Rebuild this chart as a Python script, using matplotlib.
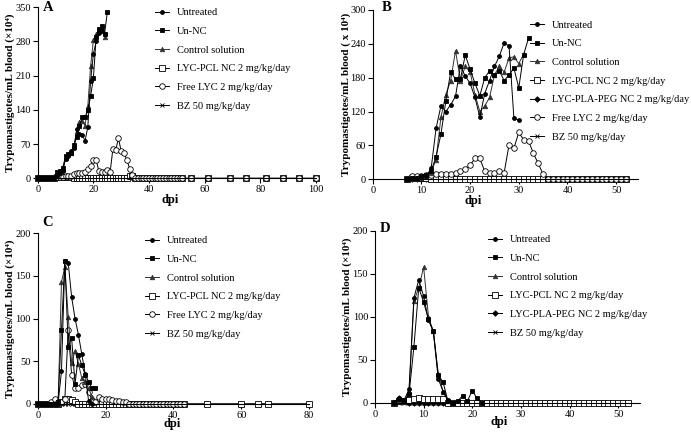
"""Plots parasitaemia curves (trypomastigotes in blood) for four experiments."""

import matplotlib
matplotlib.use('Agg')
import matplotlib.pyplot as plt
from matplotlib.lines import Line2D

plt.rcParams['font.family'] = ['Liberation Serif', 'DejaVu Serif']

# Panel A
A_DAYS = list(range(0, 53)) + [55, 61, 69, 75, 82, 88, 94, 100]
A_UNTREATED_DAYS = list(range(0, 25))
A_UNTREATED = [0, 0, 0, 0, 0, 0, 0, 5, 10, 15, 40, 45, 55, 62, 100, 90, 88,
               77, 105, 200, 255, 280, 298, 302, 296]
A_UN_NC_DAYS = list(range(0, 26))
A_UN_NC = [0, 0, 0, 0, 0, 0, 0, 12, 15, 22, 45, 50, 52, 68, 85, 108, 125,
           125, 140, 168, 205, 290, 305, 312, 295, 340]
A_CONTROL_DAYS = list(range(0, 25))
A_CONTROL = [0, 0, 0, 0, 0, 0, 0, 8, 12, 18, 42, 50, 52, 65, 95, 115, 118,
             108, 148, 230, 283, 295, 305, 310, 290]
A_LYC_PCL = [0, 0, 0, 0, 0, 0, 0, 3, 3, 3, 2, 2, 2, 0, 0, 0, 0, 0, 0, 0,
             0, 0, 0, 0, 0, 0, 0, 0, 0, 0, 0, 0, 0, 5, 5, 0, 0, 0, 0, 0,
             0, 0, 0, 0, 0, 0, 0, 0, 0, 0, 0, 0, 0,
             0, 0, 0, 0, 0, 0, 0, 0]
A_FREE_LYC = [0, 0, 0, 0, 0, 0, 0, 2, 3, 3, 5, 5, 5, 8, 10, 10, 10, 12, 20,
              25, 37, 37, 14, 12, 12, 17, 12, 60, 57, 82, 55, 52, 38, 20, 7,
              0, 0, 0, 0, 0, 0, 0, 0, 0, 0, 0, 0, 0, 0, 0, 0, 0, 0,
              0, 0, 0, 0, 0, 0, 0, 0]
A_BZ = [0, 0, 0, 0, 0, 0, 0, 0, 0, 0, 0, 0, 0, 0, 0, 0, 0, 0, 0, 0,
        0, 0, 0, 0, 0, 0, 0, 0, 0, 0, 0, 0, 0, 0, 0, 0, 0, 0, 0, 0,
        0, 0, 0, 0, 0, 0, 0, 0, 0, 0, 0, 0, 0,
        0, 0, 0, 0, 0, 0, 0, 0]

# Panel B
B_DAYS = list(range(7, 53))
B_UNTREATED_DAYS = list(range(7, 31))
B_UNTREATED = [0, 2, 2, 3, 5, 20, 90, 130, 120, 132, 147, 200, 183, 170,
               145, 110, 152, 175, 200, 218, 242, 236, 108, 105]
B_UN_NC_DAYS = list(range(7, 33))
B_UN_NC = [0, 2, 3, 5, 8, 15, 40, 80, 138, 190, 178, 178, 220, 195, 170,
           148, 180, 192, 185, 192, 175, 185, 197, 162, 221, 250]
B_CONTROL_DAYS = list(range(7, 32))
B_CONTROL = [0, 2, 3, 4, 6, 12, 35, 110, 150, 175, 228, 175, 200, 190, 150,
             120, 130, 145, 185, 200, 190, 215, 217, 205, 222]
B_LYC_PCL = [0, 2, 2, 2, 2, 0, 0, 0, 0, 0, 0, 0, 0, 0, 0, 0, 0, 0, 0, 0,
             0, 0, 0, 0, 0, 0, 0, 0, 0, 0, 0, 0, 0, 0, 0, 0, 0, 0, 0, 0,
             0, 0, 0, 0, 0, 0]
B_LYC_PLA_PEG = [0, 0, 0, 0, 0, 0, 0, 0, 0, 0, 0, 0, 0, 0, 0, 0, 0, 0, 0,
                 0, 0, 0, 0, 0, 0, 0, 0, 0, 0, 0, 0, 0, 0, 0, 0, 0, 0, 0,
                 0, 0, 0, 0, 0, 0, 0, 0]
B_FREE_LYC = [0, 5, 6, 6, 8, 8, 9, 10, 10, 10, 12, 14, 18, 25, 37, 37, 14,
              12, 12, 15, 12, 61, 55, 83, 70, 68, 46, 28, 9, 0, 0, 0, 0, 0,
              0, 0, 0, 0, 0, 0, 0, 0, 0, 0, 0, 0]
B_BZ = [0, 0, 0, 0, 0, 0, 0, 0, 0, 0, 0, 0, 0, 0, 0, 0, 0, 0, 0, 0,
        0, 0, 0, 0, 0, 0, 0, 0, 0, 0, 0, 0, 0, 0, 0, 0, 0, 0, 0, 0,
        0, 0, 0, 0, 0, 0]

# Panel C
C_DAYS = list(range(0, 44))
C_PCL_DAYS = list(range(0, 44)) + [50, 60, 65, 68, 80]
C_UNTREATED_DAYS = list(range(0, 17))
C_UNTREATED = [0, 0, 0, 0, 0, 0, 0, 38, 167, 165, 125, 100, 81, 58, 35, 3, 0]
C_UN_NC_DAYS = list(range(0, 18))
C_UN_NC = [0, 0, 0, 0, 0, 0, 2, 86, 168, 67, 77, 23, 57, 45, 34, 26, 18, 18]
C_CONTROL_DAYS = list(range(0, 17))
C_CONTROL = [0, 0, 0, 0, 0, 0, 0, 143, 160, 102, 48, 62, 47, 30, 25, 18, 8]
C_LYC_PCL = [0, 0, 0, 0, 0, 0, 0, 2, 6, 5, 4, 2, 0, 0, 0, 0, 0, 0, 0, 0,
             0, 0, 0, 0, 0, 0, 0, 0, 0, 0, 0, 0, 0, 0, 0, 0, 0, 0, 0, 0,
             0, 0, 0, 0, 0, 0, 0, 0, 0]
C_FREE_LYC = [0, 0, 0, 0, 2, 5, 2, 2, 6, 86, 34, 19, 19, 22, 23, 14, 4, 2,
              8, 5, 6, 5, 4, 3, 3, 2, 2, 0, 0, 0, 0, 0, 0, 0, 0, 0, 0, 0,
              0, 0, 0, 0, 0, 0]
C_BZ = [0, 0, 0, 0, 0, 0, 0, 0, 0, 0, 0, 0, 0, 0, 0, 0, 0, 0, 0, 0,
        0, 0, 0, 0, 0, 0, 0, 0, 0, 0, 0, 0, 0, 0, 0, 0, 0, 0, 0, 0,
        0, 0, 0, 0]

# Panel D
D_DAYS = list(range(4, 53))
D_UNTREATED_DAYS = list(range(4, 17))
D_UNTREATED = [1, 6, 3, 16, 122, 143, 124, 96, 83, 28, 13, 3, 0]
D_UN_NC_DAYS = list(range(4, 23))
D_UN_NC = [0, 4, 2, 10, 65, 134, 117, 97, 83, 32, 24, 2, 0, 2, 8, 2, 14, 5, 0]
D_CONTROL_DAYS = list(range(4, 17))
D_CONTROL = [0, 3, 2, 12, 118, 134, 158, 100, 83, 34, 13, 2, 0]
D_LYC_PCL = [0, 2, 2, 3, 4, 6, 4, 4, 4, 4, 4, 0, 0, 0, 0, 0, 0, 0, 0, 0,
             0, 0, 0, 0, 0, 0, 0, 0, 0, 0, 0, 0, 0, 0, 0, 0, 0, 0, 0, 0,
             0, 0, 0, 0, 0, 0, 0, 0, 0]
D_LYC_PLA_PEG = [0, 5, 2, 0, 0, 0, 0, 0, 0, 0, 0, 0, 0, 0, 0, 0, 0, 0, 0,
                 0, 0, 0, 0, 0, 0, 0, 0, 0, 0, 0, 0, 0, 0, 0, 0, 0, 0, 0,
                 0, 0, 0, 0, 0, 0, 0, 0, 0, 0, 0]
D_BZ = [0, 0, 0, 0, 0, 0, 0, 0, 0, 0, 0, 0, 0, 0, 0, 0, 0, 0, 0, 0,
        0, 0, 0, 0, 0, 0, 0, 0, 0, 0, 0, 0, 0, 0, 0, 0, 0, 0, 0, 0,
        0, 0, 0, 0, 0, 0, 0, 0, 0]

LABEL_UNTREATED = 'Untreated'
LABEL_UN_NC = 'Un-NC'
LABEL_CONTROL = 'Control solution'
LABEL_PCL = 'LYC-PCL NC 2 mg/kg/day'
LABEL_PEG = 'LYC-PLA-PEG NC 2 mg/kg/day'
LABEL_FREE = 'Free LYC 2 mg/kg/day'
LABEL_BZ = 'BZ 50 mg/kg/day'

STYLES = {
    LABEL_UNTREATED: dict(marker='o', ms=2.8, mfc='black', color='black'),
    LABEL_UN_NC: dict(marker='s', ms=3.2, mfc='black', color='black'),
    LABEL_CONTROL: dict(marker='^', ms=3.2, mfc='#333333', color='#333333'),
    LABEL_PCL: dict(marker='s', ms=4, mfc='white', color='black'),
    LABEL_PEG: dict(marker='D', ms=2.8, mfc='black', color='black'),
    LABEL_FREE: dict(marker='o', ms=4, mfc='white', color='black'),
    LABEL_BZ: dict(marker='x', ms=3.5, mfc='black', color='black'),
}


def draw_panel(fig, rect, letter, letter_xy, series, xlim, xticks, ylim,
               yticks, ylabel, ylabel_x, legend_xy, xlabel_xy):
    """Draws one panel with its legend."""
    axes = fig.add_axes(rect)
    # zero-level series first, rising series on top
    for label, days, values in series:
        axes.plot(days, values, lw=0.7, mew=0.6, clip_on=False,
                  **STYLES[label])
    axes.set_xlim(*xlim)
    axes.set_ylim(*ylim)
    axes.set_xticks(xticks)
    axes.set_yticks(yticks)
    axes.spines['top'].set_visible(False)
    axes.spines['right'].set_visible(False)
    for side in ('left', 'bottom'):
        axes.spines[side].set_linewidth(0.8)
    axes.tick_params(direction='out', length=3.5, width=0.8, labelsize=7.5,
                     pad=1.5)
    axes.set_ylabel(ylabel, fontsize=8, fontweight='bold')
    axes.yaxis.set_label_coords(ylabel_x, 0.5)
    axes.set_xlabel('dpi', fontsize=9, fontweight='bold')
    axes.xaxis.set_label_coords(*xlabel_xy)
    fig.text(letter_xy[0] / 691, 1 - letter_xy[1] / 432, letter,
             fontsize=10.5, fontweight='bold', ha='left', va='top')

    handles = []
    for label, _, _ in series:
        handles.append(Line2D([], [], lw=0.7, mew=0.6, label=label,
                              **STYLES[label]))
    order = [LABEL_UNTREATED, LABEL_UN_NC, LABEL_CONTROL, LABEL_PCL,
             LABEL_PEG, LABEL_FREE, LABEL_BZ]
    handles.sort(key=lambda h: order.index(h.get_label()))
    fig.legend(handles=handles, loc='upper left',
               bbox_to_anchor=(legend_xy[0] / 691, 1 - legend_xy[1] / 432),
               bbox_transform=fig.transFigure, frameon=False, fontsize=7.5,
               handlelength=1.3, handletextpad=0.8, labelspacing=0.9,
               borderpad=0, borderaxespad=0)
    return axes


def main():
    """Builds the four-panel figure."""
    fig = plt.figure(figsize=(6.91, 4.32), dpi=100)
    ylab = 'Trypomastigotes/mL blood (\u00d710\u2074)'
    ylab_b = 'Trypomastigotes/mL blood ( x 10\u2074)'

    draw_panel(fig, [0.0546, 0.5873, 0.4028, 0.3958], 'A', (43, 1),
               [(LABEL_BZ, A_DAYS, A_BZ),
                (LABEL_PCL, A_DAYS, A_LYC_PCL),
                (LABEL_FREE, A_DAYS, A_FREE_LYC),
                (LABEL_CONTROL, A_CONTROL_DAYS, A_CONTROL),
                (LABEL_UNTREATED, A_UNTREATED_DAYS, A_UNTREATED),
                (LABEL_UN_NC, A_UN_NC_DAYS, A_UN_NC)],
               (0, 100), range(0, 101, 20), (0, 350), range(0, 351, 70),
               ylab, -0.08, (155, 8), (0.475, -0.09))

    draw_panel(fig, [0.5395, 0.585, 0.3838, 0.3919], 'B', (382, 1),
               [(LABEL_BZ, B_DAYS, B_BZ),
                (LABEL_PEG, B_DAYS, B_LYC_PLA_PEG),
                (LABEL_PCL, B_DAYS, B_LYC_PCL),
                (LABEL_FREE, B_DAYS, B_FREE_LYC),
                (LABEL_CONTROL, B_CONTROL_DAYS, B_CONTROL),
                (LABEL_UNTREATED, B_UNTREATED_DAYS, B_UNTREATED),
                (LABEL_UN_NC, B_UN_NC_DAYS, B_UN_NC)],
               (0, 54.5), range(0, 51, 10), (0, 300), range(0, 301, 60),
               ylab_b, -0.082, (530, 20.5), (0.38, -0.09))

    draw_panel(fig, [0.0546, 0.0655, 0.3926, 0.3944], 'C', (42, 216),
               [(LABEL_BZ, C_DAYS, C_BZ),
                (LABEL_PCL, C_PCL_DAYS, C_LYC_PCL),
                (LABEL_FREE, C_DAYS, C_FREE_LYC),
                (LABEL_CONTROL, C_CONTROL_DAYS, C_CONTROL),
                (LABEL_UNTREATED, C_UNTREATED_DAYS, C_UNTREATED),
                (LABEL_UN_NC, C_UN_NC_DAYS, C_UN_NC)],
               (0, 80), range(0, 81, 20), (0, 200), range(0, 201, 50),
               ylab, -0.082, (145, 236), (0.495, -0.082))

    draw_panel(fig, [0.5427, 0.0678, 0.3835, 0.3975], 'D', (380, 222),
               [(LABEL_BZ, D_DAYS, D_BZ),
                (LABEL_PEG, D_DAYS, D_LYC_PLA_PEG),
                (LABEL_PCL, D_DAYS, D_LYC_PCL),
                (LABEL_CONTROL, D_CONTROL_DAYS, D_CONTROL),
                (LABEL_UNTREATED, D_UNTREATED_DAYS, D_UNTREATED),
                (LABEL_UN_NC, D_UN_NC_DAYS, D_UN_NC)],
               (0, 54.5), range(0, 51, 10), (0, 200), range(0, 201, 50),
               ylab, -0.085, (488, 235), (0.47, -0.075))

    fig.savefig('out.png', dpi=100)
    plt.close(fig)


if __name__ == '__main__':
    main()
